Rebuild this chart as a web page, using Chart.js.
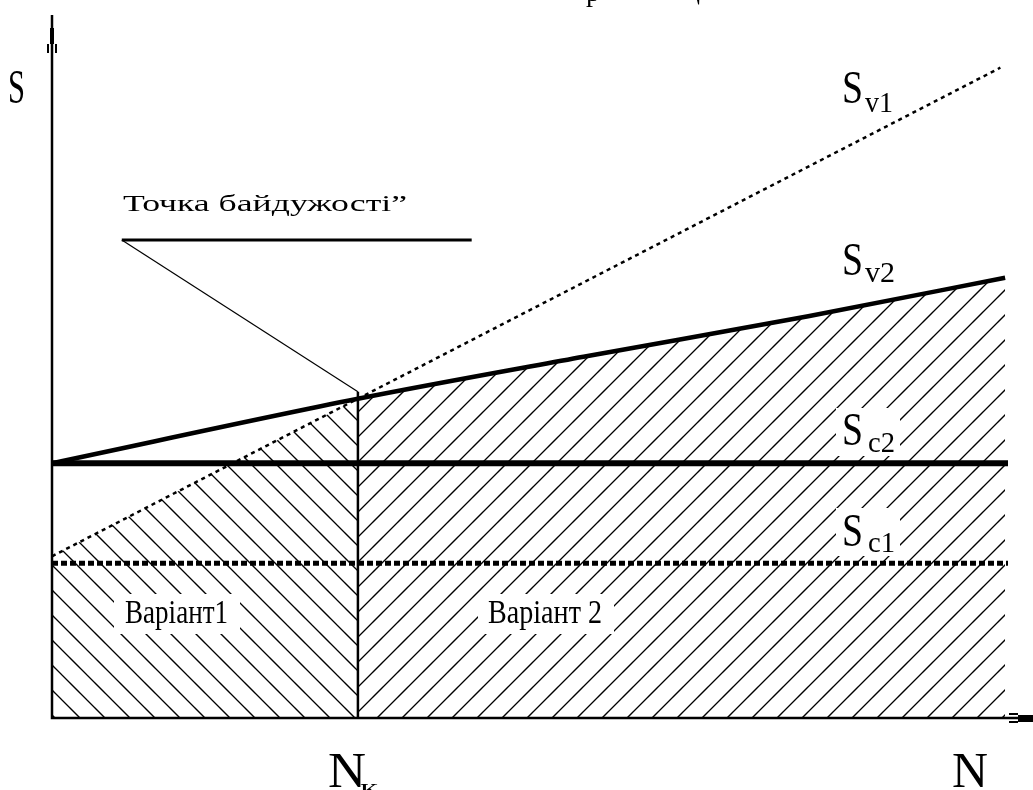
<!DOCTYPE html>
<html>
<head>
<meta charset="utf-8">
<script src="https://cdn.jsdelivr.net/npm/chart.js@4/dist/chart.umd.min.js"></script>
<style>
  body { margin: 0; background: #fff; }
  #chart { display: block; }
</style>
</head>
<body>
<canvas id="chart" width="1033" height="790"></canvas>
<script>
// values, x = N (0..100), y = S (0..100)
const xMax = 100;
const yMax = 100;
const nk = 32;
const sv1X = [0, 99.2];
const sv1Y = [23.1, 92.9];
const sv2X = [0, 32, 55.6, 79.1, 99.7];
const sv2Y = [36.4, 45.6, 51.6, 57.4, 62.9];
const sc1Y = 22.1;
const sc2Y = 36.4;
const indifference = { x: 32, y: 46.6 };
const noteStart = { x: 7.3, y: 68.3 };
const noteEndX = 43.9;
const variant1Top = [23.1, 45.6]; // Sv1 at 0 and at Nk

const pts = (xs, ys) => xs.map((x, i) => ({ x: x, y: ys[i] }));

function hatch(dir, phase) {
  const s = 25;
  const c = document.createElement("canvas");
  c.width = s;
  c.height = s;
  const g = c.getContext("2d");
  g.strokeStyle = "#000";
  g.lineWidth = 1.3;
  for (let k = -2; k <= 2; k++) {
    const o = phase + k * s;
    g.beginPath();
    if (dir > 0) {
      g.moveTo(o + 2, -2);
      g.lineTo(o - s - 2, s + 2);
    } else {
      g.moveTo(o - 2, -2);
      g.lineTo(o + s + 2, s + 2);
    }
    g.stroke();
  }
  return g.createPattern(c, "repeat");
}

function txt(ctx, s, x, base, size, w) {
  ctx.save();
  ctx.font = size + 'px "Liberation Serif"';
  const m = ctx.measureText(s).width;
  ctx.translate(x, base);
  ctx.scale(w / m, 1);
  ctx.fillStyle = "#000";
  ctx.fillText(s, 0, 0);
  ctx.restore();
}

function whiteBox(ctx, x, y, w, h) {
  ctx.fillStyle = "#fff";
  ctx.fillRect(x, y, w, h);
}

const labels = {
  id: "labels",
  afterDatasetsDraw(chart) {
    const ctx = chart.ctx;
    const xs = chart.scales.x;
    const ys = chart.scales.y;
    const x0 = xs.getPixelForValue(0);
    const y0 = ys.getPixelForValue(0);

    // label backgrounds inside the hatching
    whiteBox(ctx, 114, 594, 126, 40);
    whiteBox(ctx, 478, 594, 136, 40);
    whiteBox(ctx, 836, 408, 64, 48);
    whiteBox(ctx, 836, 508, 64, 48);

    // axes with arrow heads
    ctx.strokeStyle = "#000";
    ctx.fillStyle = "#000";
    ctx.lineWidth = 2.5;
    ctx.beginPath();
    ctx.moveTo(x0, 15);
    ctx.lineTo(x0, y0);
    ctx.lineTo(1033, y0);
    ctx.stroke();
    ctx.fillRect(x0 - 2, 28, 4, 16);
    ctx.fillRect(x0 - 5, 44, 2, 9);
    ctx.fillRect(x0 + 3, 44, 2, 9);
    ctx.fillRect(1018, y0 - 3, 15, 7);
    ctx.fillRect(1009, y0 - 5, 9, 2);
    ctx.fillRect(1009, y0 + 3, 9, 2);

    // texts
    txt(ctx, "р", 586, 1, 30, 14);
    txt(ctx, "ц", 684, -1, 30, 16);
    txt(ctx, "S", 8, 103, 48, 17);
    txt(ctx, "N", 952, 787, 50, 36);
    txt(ctx, "N", 328, 787, 50, 38);
    txt(ctx, "к", 360, 796, 26, 18);
    txt(ctx, "Точка байдужості”", 123, 211, 24, 284);
    txt(ctx, "Варіант1", 125, 623, 33, 103);
    txt(ctx, "Варіант 2", 488, 623, 33, 114);

    txt(ctx, "S", 842, 103, 46, 21);
    txt(ctx, "v1", 865, 112, 30, 28);
    txt(ctx, "S", 842, 275, 46, 21);
    txt(ctx, "v2", 865, 282, 30, 30);
    txt(ctx, "S", 842, 445, 46, 21);
    txt(ctx, "c2", 868, 452, 30, 27);
    txt(ctx, "S", 842, 546, 46, 21);
    txt(ctx, "c1", 868, 552, 30, 27);
  }
};

const line = (data, width, dash) => ({
  data: data,
  borderColor: "#000",
  borderWidth: width,
  borderDash: dash || [],
  pointRadius: 0,
  fill: false
});

new Chart("chart", {
  type: "line",
  data: {
    datasets: [
      line(pts(sv1X, sv1Y), 2.5, [4, 4]),
      Object.assign(line(pts(sv2X, sv2Y), 4.5), { cubicInterpolationMode: "monotone" }),
      line([{ x: 0, y: sc2Y }, { x: xMax, y: sc2Y }], 6),
      line([{ x: 0, y: sc1Y }, { x: xMax, y: sc1Y }], 5, [6, 3]),
      line([{ x: nk, y: 0 }, indifference], 2.5),
      line([noteStart, indifference], 1.2),
      line([noteStart, { x: noteEndX, y: noteStart.y }], 3),
      {
        data: [{ x: 0, y: variant1Top[0] }, { x: nk, y: variant1Top[1] }],
        borderWidth: 0,
        pointRadius: 0,
        backgroundColor: hatch(-1, 12),
        fill: "origin"
      },
      {
        data: pts(sv2X.slice(1), sv2Y.slice(1)),
        cubicInterpolationMode: "monotone",
        borderWidth: 0,
        pointRadius: 0,
        backgroundColor: hatch(1, 20),
        fill: "origin"
      }
    ]
  },
  options: {
    responsive: false,
    animation: false,
    devicePixelRatio: 1,
    layout: { padding: { left: 52, right: 25, top: 18, bottom: 72 } },
    plugins: { legend: { display: false }, tooltip: { enabled: false } },
    scales: {
      x: { type: "linear", min: 0, max: xMax, display: false },
      y: { min: 0, max: yMax, display: false }
    }
  },
  plugins: [labels]
});
</script>
</body>
</html>
